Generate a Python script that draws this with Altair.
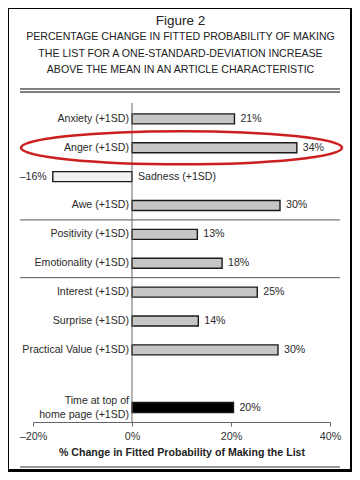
import altair as alt
import pandas as pd

# ---- data ----
fig_title = "Figure 2"
fig_subtitle = [
    "PERCENTAGE CHANGE IN FITTED PROBABILITY OF MAKING",
    "THE LIST FOR A ONE-STANDARD-DEVIATION INCREASE",
    "ABOVE THE MEAN IN AN ARTICLE CHARACTERISTIC",
]
labels = [
    "Anxiety (+1SD)", "Anger (+1SD)", "Sadness (+1SD)", "Awe (+1SD)",
    "Positivity (+1SD)", "Emotionality (+1SD)",
    "Interest (+1SD)", "Surprise (+1SD)", "Practical Value (+1SD)",
    "Time at top of\nhome page (+1SD)",
]
rows = [0, 1, 2, 3, 4, 5, 6, 7, 8, 10]
values = [20.7, 33.3, -16.0, 29.9, 13.2, 18.2, 25.3, 13.4, 29.5, 20.5]
value_text = ["21%", "34%", "\u201316%", "30%", "13%", "18%", "25%", "14%", "30%", "20%"]
kinds = ["emotion", "emotion", "negative", "emotion", "emotion", "emotion",
         "emotion", "emotion", "emotion", "control"]
separator_rows = [3.5, 5.5]
highlight_label = "Anger (+1SD)"
tick_values = [-20, 0, 20, 40]

fills = {"emotion": "#c6c6c6", "negative": "#f1f1f1", "control": "#000000"}

df = pd.DataFrame({
    "label": labels,
    "row": rows,
    "value": values,
    "vtext": value_text,
    "kind": kinds,
})
df["fill"] = df["kind"].map(fills)
sep_df = pd.DataFrame({"row": separator_rows})
one = pd.DataFrame({"a": [0]})

FONT = "Liberation Sans"
W, H = 297, 319

xscale = alt.Scale(domain=[-20, 40], nice=False, zero=False, padding=0)
yscale = alt.Scale(domain=[-0.55, 10.5], reverse=True, nice=False, zero=False, padding=0)

Y = alt.Y("row:Q", scale=yscale, axis=None)

# white paper panel
panel = alt.Chart(one).mark_rect(fill="white").encode(
    x=alt.value(-24), x2=alt.value(317), y=alt.value(-94), y2=alt.value(366)
)

# title block as text
title_layers = [
    alt.Chart(one).mark_text(font=FONT, fontSize=13.5, color="#222",
                             align="center", baseline="middle").encode(
        x=alt.value(W / 2 - 1), y=alt.value(-82), text=alt.value(fig_title))
]
for i, line in enumerate(fig_subtitle):
    title_layers.append(
        alt.Chart(one).mark_text(font=FONT, fontSize=10.6, color="#222",
                                 align="center", baseline="middle").encode(
            x=alt.value(W / 2 - 1), y=alt.value(-66 + 16.5 * i), text=alt.value(line)))

# decorative rules: double rule under title, rule at bottom
top1 = alt.Chart(one).mark_rule(color="#555", strokeWidth=1.3).encode(
    x=alt.value(-13), x2=alt.value(307), y=alt.value(-14))
top2 = alt.Chart(one).mark_rule(color="#555", strokeWidth=1.3).encode(
    x=alt.value(-13), x2=alt.value(307), y=alt.value(-11))
bottom = alt.Chart(one).mark_rule(color="#777", strokeWidth=1.3).encode(
    x=alt.value(-13), x2=alt.value(307), y=alt.value(364))

seps = alt.Chart(sep_df).mark_rule(color="#555", strokeWidth=1).encode(
    x=alt.value(-13), x2=alt.value(307), y=Y)

bars = alt.Chart(df).mark_bar(orient="horizontal", size=10, stroke="#1a1a1a",
                              strokeWidth=1.4).encode(
    x=alt.X("value:Q", scale=xscale, axis=alt.Axis(
        values=tick_values,
        labelExpr="datum.value < 0 ? '\u2013' + abs(datum.value) + '%' : datum.value + '%'",
        title="% Change in Fitted Probability of Making the List",
        titleFont=FONT, titleFontWeight="bold", titleFontSize=10.6, titleColor="#222",
        titlePadding=7, labelFont=FONT,
        labelFontSize=10.8, labelColor="#333", labelPadding=4,
        domainColor="#666", tickColor="#666", tickSize=4, grid=False,
        zindex=1, labelFlush=False,
    )),
    x2=alt.datum(0),
    y=Y,
    fill=alt.Fill("fill:N", scale=None),
)

zero = alt.Chart(one).mark_rule(color="#666", strokeWidth=1).encode(
    x=alt.datum(0), y=alt.value(0), y2=alt.value(H))

text_common = dict(font=FONT, fontSize=10.6, color="#2a2a2a")

cat_pos = alt.Chart(df).transform_filter(
    "datum.kind == 'emotion'").mark_text(align="right", baseline="middle", dx=-3,
                                         **text_common).encode(
    x=alt.datum(0), y=Y, text="label:N")
cat_neg = alt.Chart(df).transform_filter(
    "datum.kind == 'negative'").mark_text(align="left", baseline="middle", dx=6,
                                          **text_common).encode(
    x=alt.datum(0), y=Y, text="label:N")
cat_ctrl = alt.Chart(df).transform_filter(
    "datum.kind == 'control'").mark_text(align="right", baseline="middle", dx=-3,
                                         dy=-7, lineBreak="\n", lineHeight=14,
                                         **text_common).encode(
    x=alt.datum(0), y=Y, text="label:N")

val_pos = alt.Chart(df).transform_filter("datum.value >= 0").mark_text(
    align="left", baseline="middle", dx=6, **text_common).encode(
    x=alt.X("value:Q"), y=Y, text="vtext:N")
val_neg = alt.Chart(df).transform_filter("datum.value < 0").mark_text(
    align="right", baseline="middle", dx=-6, **text_common).encode(
    x=alt.X("value:Q"), y=Y, text="vtext:N")

ellipse = alt.Chart(df).transform_filter(
    alt.datum.label == highlight_label).mark_point(
    shape="M-1,0A1,0.103,0,1,0,1,0A1,0.103,0,1,0,-1,0Z",
    size=321 * 321, filled=False, stroke="#cc2020", strokeWidth=2.6, opacity=1,
).encode(x=alt.datum(10), y=Y)

chart = alt.layer(
    panel, *title_layers, top1, top2, bottom, seps, bars, zero,
    cat_pos, cat_neg, cat_ctrl, val_pos, val_neg, ellipse,
).properties(
    width=W, height=H,
    autosize=alt.AutoSizeParams(type="none"),
    padding={"left": 25, "top": 95, "right": 22, "bottom": 50},
    background="black",
).configure_view(stroke=None).configure(font=FONT)

chart.save("out.html", embed_options={"renderer": "svg", "actions": False})
